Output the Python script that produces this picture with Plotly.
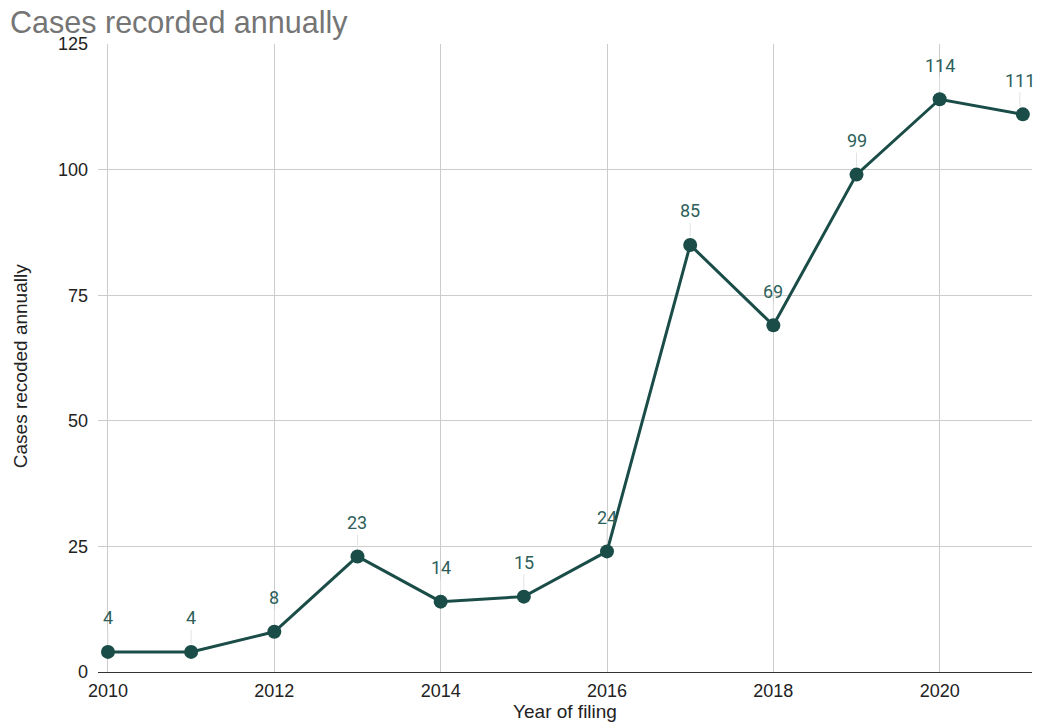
import plotly.graph_objects as go

years = [2010, 2011, 2012, 2013, 2014, 2015, 2016, 2017, 2018, 2019, 2020, 2021]
cases = [4, 4, 8, 23, 14, 15, 24, 85, 69, 99, 114, 111]
x_ticks = [2010, 2012, 2014, 2016, 2018, 2020]
y_ticks = [0, 25, 50, 75, 100, 125]

line_color = "#1b4d48"
label_color = "#2e5f5a"

fig = go.Figure()
fig.add_trace(go.Scatter(
    x=years, y=cases, mode="lines+markers",
    line=dict(color=line_color, width=3),
    marker=dict(color=line_color, size=14),
    hoverinfo="x+y", showlegend=False, cliponaxis=False,
))

n = len(years)
for i, (xv, yv) in enumerate(zip(years, cases)):
    fig.add_annotation(
        x=xv, y=yv, text=str(yv), showarrow=True, arrowhead=0,
        arrowwidth=1, arrowcolor="#e3e3e3", ax=0, ay=-34, standoff=8,
        font=dict(family="Roboto", size=18, color=label_color),
        yanchor="middle",
        xshift=-3 if i == n - 1 else 0,
    )

# y-axis title as a paper annotation (slightly below centre, as in the reference)
fig.add_annotation(
    x=-0.0835, y=0.487, xref="paper", yref="paper", showarrow=False,
    text="Cases recoded annually", textangle=-90,
    font=dict(family="Liberation Sans, Arial", size=19, color="#222222"),
    xanchor="center", yanchor="middle",
)

fig.update_layout(
    width=1033, height=716,
    margin=dict(l=90, r=9, t=36, b=52, autoexpand=False),
    paper_bgcolor="white", plot_bgcolor="white",
    title=dict(text="Cases recorded annually", x=0.002, xanchor="left",
               y=1 - 14 / 716, yanchor="middle",
               font=dict(family="Liberation Sans, Arial", size=30.5, color="#757575")),
    font=dict(family="Liberation Sans, Arial", size=18, color="#222222"),
)
fig.update_xaxes(
    range=[2009.88, 2021.11], tickvals=x_ticks, ticktext=[str(v) for v in x_ticks],
    showgrid=True, gridcolor="#cccccc", gridwidth=1,
    showline=True, linecolor="#333333", linewidth=1,
    zeroline=False, ticks="", ticklabelstandoff=2, automargin=False,
    title=dict(text="Year of filing", standoff=3, font=dict(size=19)),
    tickfont=dict(size=18),
)
fig.update_yaxes(
    range=[0, 125], tickvals=y_ticks,
    showgrid=True, gridcolor="#cccccc", gridwidth=1,
    showline=False, zeroline=False, ticks="", ticklabelstandoff=9, automargin=False,
    tickfont=dict(size=18),
)

fig.write_html("out.html")
